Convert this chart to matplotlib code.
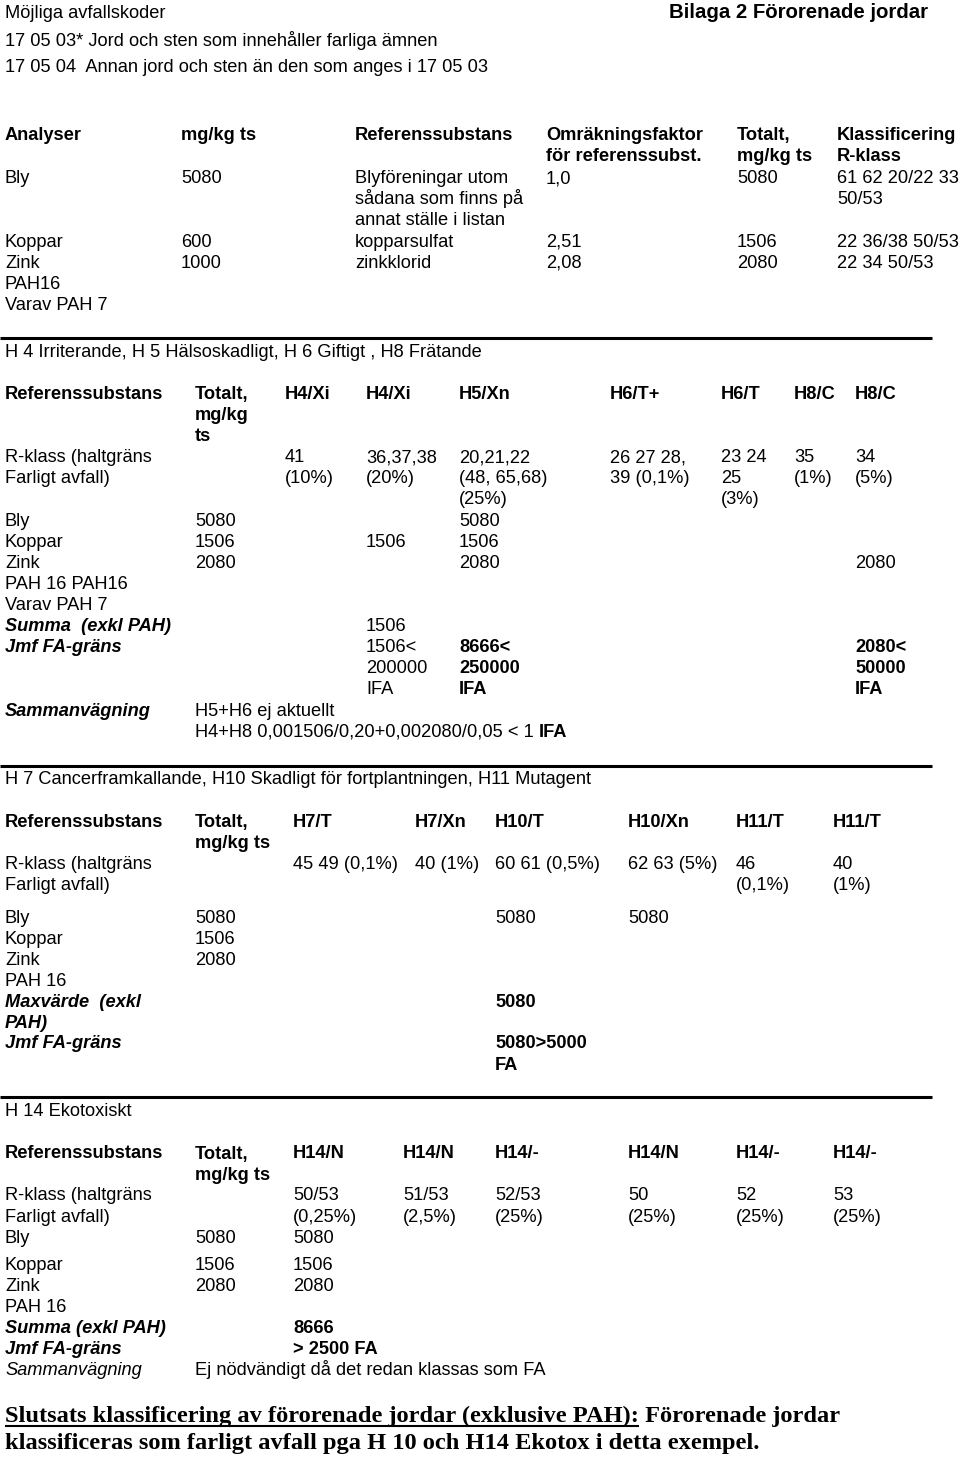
import matplotlib
matplotlib.use("Agg")
import matplotlib.pyplot as plt

# ---------------- data ----------------
page_title_left = "Möjliga avfallskoder"
page_title_right = "Bilaga 2 Förorenade jordar"
waste_codes = ["17 05 03* Jord och sten som innehåller farliga ämnen",
               "17 05 04  Annan jord och sten än den som anges i 17 05 03"]

t1_header = ["Analyser", "mg/kg ts", "Referenssubstans",
             "Omräkningsfaktor\nför referenssubst.", "Totalt,\nmg/kg ts",
             "Klassificering\nR-klass"]
t1_analyses = ["Bly", "Koppar", "Zink", "PAH16", "Varav PAH 7"]
t1_mgkg = ["5080", "600", "1000", "", ""]
t1_refsub = ["Blyföreningar utom\nsådana som finns på\nannat ställe i listan",
             "kopparsulfat", "zinkklorid", "", ""]
t1_factor = ["1,0", "2,51", "2,08", "", ""]
t1_total = ["5080", "1506", "2080", "", ""]
t1_rclass = ["61 62 20/22 33\n50/53", "22 36/38 50/53", "22 34 50/53", "", ""]

t2_title = "H 4 Irriterande, H 5 Hälsoskadligt, H 6 Giftigt , H8 Frätande"
t2_header = ["Referenssubstans", "Totalt,\nmg/kg\nts", "H4/Xi", "H4/Xi", "H5/Xn",
             "H6/T+", "H6/T", "H8/C", "H8/C"]
t2_rows = [
    ["R-klass (haltgräns\nFarligt avfall)", "", "41\n(10%)", "36,37,38\n(20%)",
     "20,21,22\n(48, 65,68)\n(25%)", "26 27 28,\n39 (0,1%)", "23 24\n25\n(3%)",
     "35\n(1%)", "34\n(5%)"],
    ["Bly", "5080", "", "", "5080", "", "", "", ""],
    ["Koppar", "1506", "", "1506", "1506", "", "", "", ""],
    ["Zink", "2080", "", "", "2080", "", "", "", "2080"],
    ["PAH 16 PAH16", "", "", "", "", "", "", "", ""],
    ["Varav PAH 7", "", "", "", "", "", "", "", ""],
    ["Summa  (exkl PAH)", "", "", "1506", "", "", "", "", ""],
    ["Jmf FA-gräns", "", "", "1506<\n200000\nIFA", "8666<\n250000\nIFA",
     "", "", "", "2080<\n50000\nIFA"],
]
t2_sum_label = "Sammanvägning"
t2_sum_lines = ["H5+H6 ej aktuellt", "H4+H8 0,001506/0,20+0,002080/0,05 < 1 "]
t2_sum_tail = "IFA"

t3_title = "H 7 Cancerframkallande, H10 Skadligt för fortplantningen, H11 Mutagent"
t3_header = ["Referenssubstans", "Totalt,\nmg/kg ts", "H7/T", "H7/Xn", "H10/T",
             "H10/Xn", "H11/T", "H11/T"]
t3_rows = [
    ["R-klass (haltgräns\nFarligt avfall)", "", "45 49 (0,1%)", "40 (1%)",
     "60 61 (0,5%)", "62 63 (5%)", "46\n(0,1%)", "40\n(1%)"],
    ["Bly", "5080", "", "", "5080", "5080", "", ""],
    ["Koppar", "1506", "", "", "", "", "", ""],
    ["Zink", "2080", "", "", "", "", "", ""],
    ["PAH 16", "", "", "", "", "", "", ""],
    ["Maxvärde  (exkl\nPAH)", "", "", "", "5080", "", "", ""],
    ["Jmf FA-gräns", "", "", "", "5080>5000\nFA", "", "", ""],
]

t4_title = "H 14 Ekotoxiskt"
t4_header = ["Referenssubstans", "Totalt,\nmg/kg ts", "H14/N", "H14/N", "H14/-",
             "H14/N", "H14/-", "H14/-"]
t4_rows = [
    ["R-klass (haltgräns\nFarligt avfall)", "", "50/53\n(0,25%)", "51/53\n(2,5%)",
     "52/53\n(25%)", "50\n(25%)", "52\n(25%)", "53\n(25%)"],
    ["Bly", "5080", "5080", "", "", "", "", ""],
    ["Koppar", "1506", "1506", "", "", "", "", ""],
    ["Zink", "2080", "2080", "", "", "", "", ""],
    ["PAH 16", "", "", "", "", "", "", ""],
    ["Summa (exkl PAH)", "", "8666", "", "", "", "", ""],
    ["Jmf FA-gräns", "", "> 2500 FA", "", "", "", "", ""],
    ["Sammanvägning", "Ej nödvändigt då det redan klassas som FA", "", "", "", "", "", ""],
]

conclusion_underlined = "Slutsats klassificering av förorenade jordar (exklusive PAH):"
conclusion_rest = " Förorenade jordar"
conclusion_line2 = "klassificeras som farligt avfall pga H 10 och H14 Ekotox i detta exempel."

# ---------------- layout ----------------
W, H = 960, 1458
fig = plt.figure(figsize=(W / 100, H / 100), dpi=100)
ax = fig.add_axes([0, 0, 1, 1])
ax.set_xlim(0, W)
ax.set_ylim(H, 0)
ax.axis("off")

SANS = "Liberation Sans"
SERIF = "Liberation Serif"
FS = 13.15
LH = 21.2


def put(x, y, s, weight="normal", style="normal", size=FS, family=SANS, ha="left"):
    lines = s.split("\n")
    objs = []
    for i, ln in enumerate(lines):
        if ln == "":
            continue
        objs.append(ax.text(x, y + i * LH, ln, fontsize=size, fontweight=weight,
                            fontstyle=style, family=family, ha=ha, va="baseline",
                            color="black"))
    return objs


def hline(y):
    ax.plot([0, 932], [y, y], color="black", lw=2.2, solid_capstyle="butt")


# top
put(5, 18, page_title_left)
put(928, 18, page_title_right, weight="bold", size=14.7, ha="right")
put(5, 45.5, waste_codes[0])
put(5, 72, waste_codes[1])

# table 1
t1_x = [5, 181, 355, 546, 737, 837]
for x, h in zip(t1_x, t1_header):
    put(x, 140, h, weight="bold")
t1_y = [183, 246.5, 267.5, 288.5, 309.5]
for i, y in enumerate(t1_y):
    for x, col in zip(t1_x, [t1_analyses, t1_mgkg, t1_refsub, t1_factor, t1_total, t1_rclass]):
        put(x, y, col[i])

hline(338)

# table 2
put(5, 356.5, t2_title)
t2_x = [5, 195, 285, 366, 459, 610, 721, 794, 855]
for x, h in zip(t2_x, t2_header):
    put(x, 398.5, h, weight="bold")
t2_y = [462, 525.5, 546.5, 567.5, 588.5, 609.5, 630.5, 651.5]
t2_bold_cells = {(7, 4), (7, 8)}
for r, (y, row) in enumerate(zip(t2_y, t2_rows)):
    for c, (x, cell) in enumerate(zip(t2_x, row)):
        if c == 0 and r >= 6:
            put(x, y, cell, weight="bold", style="italic")
        elif (r, c) in t2_bold_cells:
            put(x, y, cell, weight="bold")
        else:
            put(x, y, cell)
put(5, 715.5, t2_sum_label, weight="bold", style="italic")
put(195, 715.5, t2_sum_lines[0])
last = put(195, 736.5, t2_sum_lines[1])[0]
fig.canvas.draw()
rend = fig.canvas.get_renderer()
inv = ax.transData.inverted()
bb = last.get_window_extent(rend)
x_end = inv.transform((bb.x1, bb.y0))[0]
put(x_end, 736.5, t2_sum_tail, weight="bold")

hline(766)

# table 3
put(5, 784, t3_title)
t3_x = [5, 195, 293, 415, 495, 628, 736, 833]
for x, h in zip(t3_x, t3_header):
    put(x, 826.5, h, weight="bold")
t3_y = [868.5, 922.5, 943.5, 964.5, 985.5, 1006.5, 1048.5]
for r, (y, row) in enumerate(zip(t3_y, t3_rows)):
    for c, (x, cell) in enumerate(zip(t3_x, row)):
        if c == 0 and r >= 5:
            put(x, y, cell, weight="bold", style="italic")
        elif r >= 5:
            put(x, y, cell, weight="bold")
        else:
            put(x, y, cell)

hline(1097)

# table 4
put(5, 1116, t4_title)
t4_x = [5, 195, 293, 403, 495, 628, 736, 833]
for x, h in zip(t4_x, t4_header):
    put(x, 1158.5, h, weight="bold")
t4_y = [1200.5, 1243, 1270, 1291, 1312, 1333, 1354, 1375]
for r, (y, row) in enumerate(zip(t4_y, t4_rows)):
    for c, (x, cell) in enumerate(zip(t4_x, row)):
        if r == 7:
            put(x, y, cell, style="italic" if c == 0 else "normal")
        elif c == 0 and r >= 5:
            put(x, y, cell, weight="bold", style="italic")
        elif r >= 5:
            put(x, y, cell, weight="bold")
        else:
            put(x, y, cell)

# conclusion
CS = 17.6
u = put(5, 1422, conclusion_underlined, weight="bold", size=CS, family=SERIF)[0]
fig.canvas.draw()
bb = u.get_window_extent(rend)
ux1 = inv.transform((bb.x1, bb.y0))[0]
ux0 = inv.transform((bb.x0, bb.y0))[0]
ax.plot([ux0, ux1], [1426, 1426], color="black", lw=1.5, solid_capstyle="butt")
put(ux1, 1422, conclusion_rest, weight="bold", size=CS, family=SERIF)
put(5, 1449, conclusion_line2, weight="bold", size=CS, family=SERIF)

fig.savefig("out.png", dpi=100, facecolor="white")
